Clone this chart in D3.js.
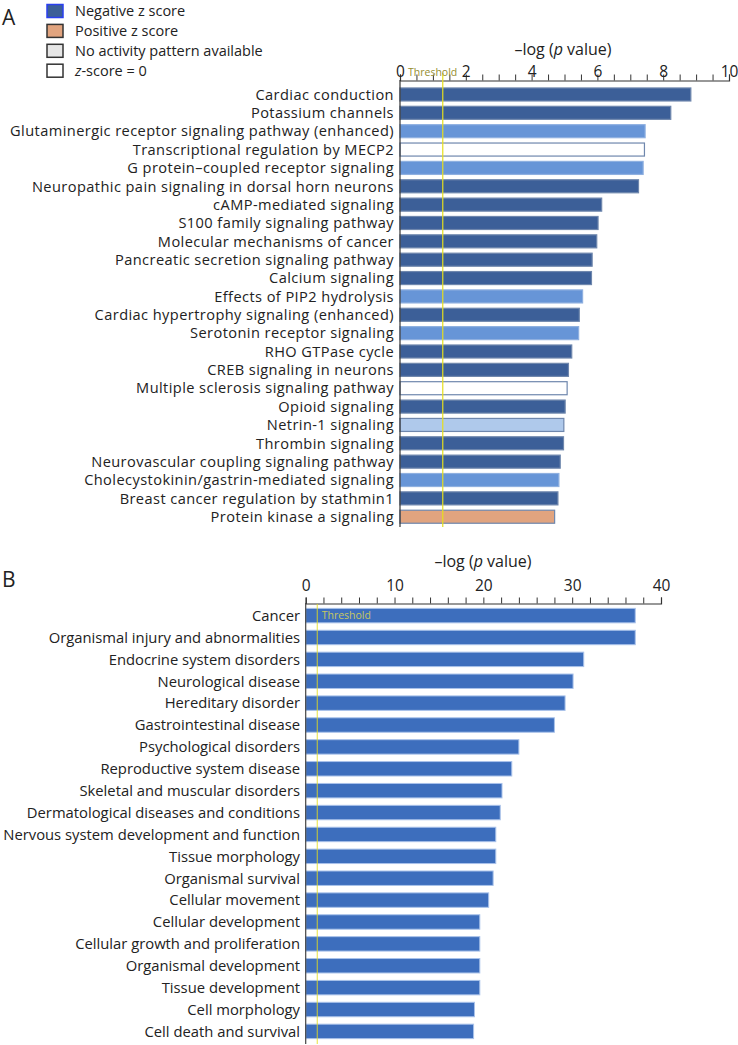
<!DOCTYPE html>
<html>
<head>
<meta charset="utf-8">
<script src="https://cdn.jsdelivr.net/npm/d3@7"></script>
<style>
  body { margin: 0; background: #fff; }
  text { font-family: "Open Sans", "Noto Sans", sans-serif; }
</style>
</head>
<body>
<div id="chart"></div>
<script>
var svgWidth = 738;
var svgHeight = 1045;

// panel A data
var pathwaysA = [
  "Cardiac conduction", "Potassium channels",
  "Glutaminergic receptor signaling pathway (enhanced)",
  "Transcriptional regulation by MECP2",
  "G protein\u2013coupled receptor signaling",
  "Neuropathic pain signaling in dorsal horn neurons",
  "cAMP-mediated signaling", "S100 family signaling pathway",
  "Molecular mechanisms of cancer", "Pancreatic secretion signaling pathway",
  "Calcium signaling", "Effects of PIP2 hydrolysis",
  "Cardiac hypertrophy signaling (enhanced)", "Serotonin receptor signaling",
  "RHO GTPase cycle", "CREB signaling in neurons",
  "Multiple sclerosis signaling pathway", "Opioid signaling",
  "Netrin-1 signaling", "Thrombin signaling",
  "Neurovascular coupling signaling pathway",
  "Cholecystokinin/gastrin-mediated signaling",
  "Breast cancer regulation by stathmin1", "Protein kinase a signaling"
];
var valuesA = [8.84, 8.23, 7.45, 7.43, 7.39, 7.25, 6.13, 6.02, 5.98, 5.84, 5.82, 5.55,
  5.45, 5.43, 5.22, 5.12, 5.08, 5.02, 4.98, 4.97, 4.87, 4.83, 4.80, 4.70];
// z score class for each pathway
var zClassA = ["negStrong", "negStrong", "negMid", "zero", "negMid", "negStrong",
  "negStrong", "negStrong", "negStrong", "negStrong", "negStrong", "negMid",
  "negStrong", "negMid", "negStrong", "negStrong", "zero", "negStrong",
  "negWeak", "negStrong", "negStrong", "negMid", "negStrong", "pos"];

// panel B data
var categoriesB = [
  "Cancer", "Organismal injury and abnormalities", "Endocrine system disorders",
  "Neurological disease", "Hereditary disorder", "Gastrointestinal disease",
  "Psychological disorders", "Reproductive system disease",
  "Skeletal and muscular disorders", "Dermatological diseases and conditions",
  "Nervous system development and function", "Tissue morphology",
  "Organismal survival", "Cellular movement", "Cellular development",
  "Cellular growth and proliferation", "Organismal development",
  "Tissue development", "Cell morphology", "Cell death and survival"
];
var valuesB = [37.1, 37.1, 31.3, 30.1, 29.2, 28.0, 24.0, 23.2, 22.1, 21.9,
  21.4, 21.4, 21.1, 20.6, 19.6, 19.6, 19.6, 19.6, 19.0, 18.9];

var legendLabels = ["Negative z score", "Positive z score", "No activity pattern available", "z-score = 0"];
var threshold = 1.3;

var fillColor = {
  negStrong: "#3c5f98",
  negMid: "#6795d7",
  negWeak: "#afc9eb",
  zero: "#ffffff",
  pos: "#e1a47f"
};

var svg = d3.select("#chart").append("svg")
  .attr("width", svgWidth)
  .attr("height", svgHeight);

// ---------- legend ----------
var legend = svg.append("g");
var legendFill = ["#3c5f98", "#e1a47f", "#e6e6e6", "#ffffff"];
var legendStroke = ["#2a3ff0", "#333", "#333", "#333"];
legendLabels.forEach(function(lab, i) {
  var y = 11 + i * 19.9;
  legend.append("rect")
    .attr("x", 47).attr("y", y - 6.5)
    .attr("width", 16).attr("height", 13)
    .attr("fill", legendFill[i])
    .attr("stroke", legendStroke[i])
    .attr("stroke-width", 1.5);
  var t = legend.append("text")
    .attr("x", 75).attr("y", y)
    .attr("dy", "0.36em")
    .attr("font-size", 14.5)
    .attr("fill", "#222");
  if (lab.indexOf("z-score") === 0) {
    t.append("tspan").attr("font-style", "italic").text("z");
    t.append("tspan").text("-score = 0");
  } else {
    t.text(lab);
  }
});

svg.append("text").attr("x", 2).attr("y", 25).attr("font-size", 21).attr("fill", "#222").text("A");
svg.append("text").attr("x", 2).attr("y", 587).attr("font-size", 21).attr("fill", "#222").text("B");

function axisTitle(x, y) {
  var t = svg.append("text")
    .attr("x", x).attr("y", y)
    .attr("text-anchor", "middle")
    .attr("font-size", 16)
    .attr("fill", "#222");
  t.append("tspan").text("\u2013log (");
  t.append("tspan").attr("font-style", "italic").text("p");
  t.append("tspan").text(" value)");
}

// ---------- panel A ----------
var xA = d3.scaleLinear().domain([0, 10]).range([400, 729]);
var yA = d3.scaleBand().domain(pathwaysA).range([85.2, 526]).paddingInner(0.29).paddingOuter(0.15);

axisTitle(563, 55);

var gA = svg.append("g");
gA.append("g")
  .attr("transform", "translate(0,80.5)")
  .call(d3.axisTop(xA)
    .tickValues(d3.range(0, 10.01, 0.5))
    .tickSize(6)
    .tickFormat(function(d) { return d % 2 === 0 ? d : ""; }))
  .call(function(g) {
    g.select(".domain").attr("stroke", "#333").attr("stroke-width", 1.2);
    g.selectAll(".tick line").attr("stroke", "#333");
    g.selectAll(".tick text").attr("font-size", 15.5).attr("fill", "#222")
      .attr("font-family", "'Open Sans', sans-serif").attr("y", -4);
  });

gA.selectAll("rect.bar")
  .data(pathwaysA)
  .join("rect")
  .attr("class", "bar")
  .attr("x", xA(0))
  .attr("y", function(d) { return yA(d); })
  .attr("width", function(d, i) { return xA(valuesA[i]) - xA(0); })
  .attr("height", yA.bandwidth())
  .attr("fill", function(d, i) { return fillColor[zClassA[i]]; })
  .attr("stroke", function(d, i) { return zClassA[i] === "negMid" ? "#8fb0e0" : "#6f87ad"; })
  .attr("stroke-width", 1.2);

gA.selectAll("text.lab")
  .data(pathwaysA)
  .join("text")
  .attr("class", "lab")
  .attr("x", 394)
  .attr("y", function(d) { return yA(d) + yA.bandwidth() / 2; })
  .attr("dy", "0.36em")
  .attr("text-anchor", "end")
  .attr("font-size", 14.6)
  .attr("letter-spacing", 0.42)
  .attr("fill", "#222")
  .text(function(d) { return d; });

gA.append("line")
  .attr("x1", xA(0)).attr("x2", xA(0))
  .attr("y1", 80).attr("y2", 527)
  .attr("stroke", "#333").attr("stroke-width", 1.2);

gA.append("line")
  .attr("x1", xA(threshold)).attr("x2", xA(threshold))
  .attr("y1", 73).attr("y2", 527)
  .attr("stroke", "#e6df1c").attr("stroke-width", 1.2);

gA.append("text")
  .attr("x", xA(0) + 8).attr("y", 76)
  .attr("font-size", 10.5)
  .attr("fill", "#958d30")
  .text("Threshold");

// ---------- panel B ----------
var xB = d3.scaleLinear().domain([0, 40]).range([305.7, 661]);
var yB = d3.scaleBand().domain(categoriesB).range([604, 1043]).paddingInner(0.34).paddingOuter(0.2);

axisTitle(483, 567);

var gB = svg.append("g");
gB.append("g")
  .attr("transform", "translate(0,603.5)")
  .call(d3.axisTop(xB)
    .tickValues(d3.range(0, 40.1, 2))
    .tickSize(6)
    .tickFormat(function(d) { return d % 10 === 0 ? d : ""; }))
  .call(function(g) {
    g.select(".domain").attr("stroke", "#333").attr("stroke-width", 1.2);
    g.selectAll(".tick line").attr("stroke", "#333");
    g.selectAll(".tick text").attr("font-size", 15.5).attr("fill", "#222")
      .attr("font-family", "'Open Sans', sans-serif").attr("y", -12.5);
  });

gB.selectAll("rect.bar")
  .data(categoriesB)
  .join("rect")
  .attr("class", "bar")
  .attr("x", xB(0))
  .attr("y", function(d) { return yB(d); })
  .attr("width", function(d, i) { return xB(valuesB[i]) - xB(0); })
  .attr("height", yB.bandwidth())
  .attr("fill", "#3d6ebd")
  .attr("stroke", "#a9c2ea")
  .attr("stroke-width", 1);

gB.selectAll("text.lab")
  .data(categoriesB)
  .join("text")
  .attr("class", "lab")
  .attr("x", 300)
  .attr("y", function(d) { return yB(d) + yB.bandwidth() / 2; })
  .attr("dy", "0.36em")
  .attr("text-anchor", "end")
  .attr("font-size", 14.8)
  .attr("fill", "#222")
  .text(function(d) { return d; });

gB.append("line")
  .attr("x1", xB(0)).attr("x2", xB(0))
  .attr("y1", 603).attr("y2", 1044)
  .attr("stroke", "#444").attr("stroke-width", 1.2);

gB.append("line")
  .attr("x1", xB(threshold)).attr("x2", xB(threshold))
  .attr("y1", 604).attr("y2", 1044)
  .attr("stroke", "#e6df1c").attr("stroke-width", 1)
  .attr("opacity", 0.85);

gB.append("text")
  .attr("x", xB(0) + 16).attr("y", yB(categoriesB[0]) + yB.bandwidth() / 2)
  .attr("dy", "0.36em")
  .attr("font-size", 10.5)
  .attr("fill", "#c8c860")
  .text("Threshold");
</script>
</body>
</html>
